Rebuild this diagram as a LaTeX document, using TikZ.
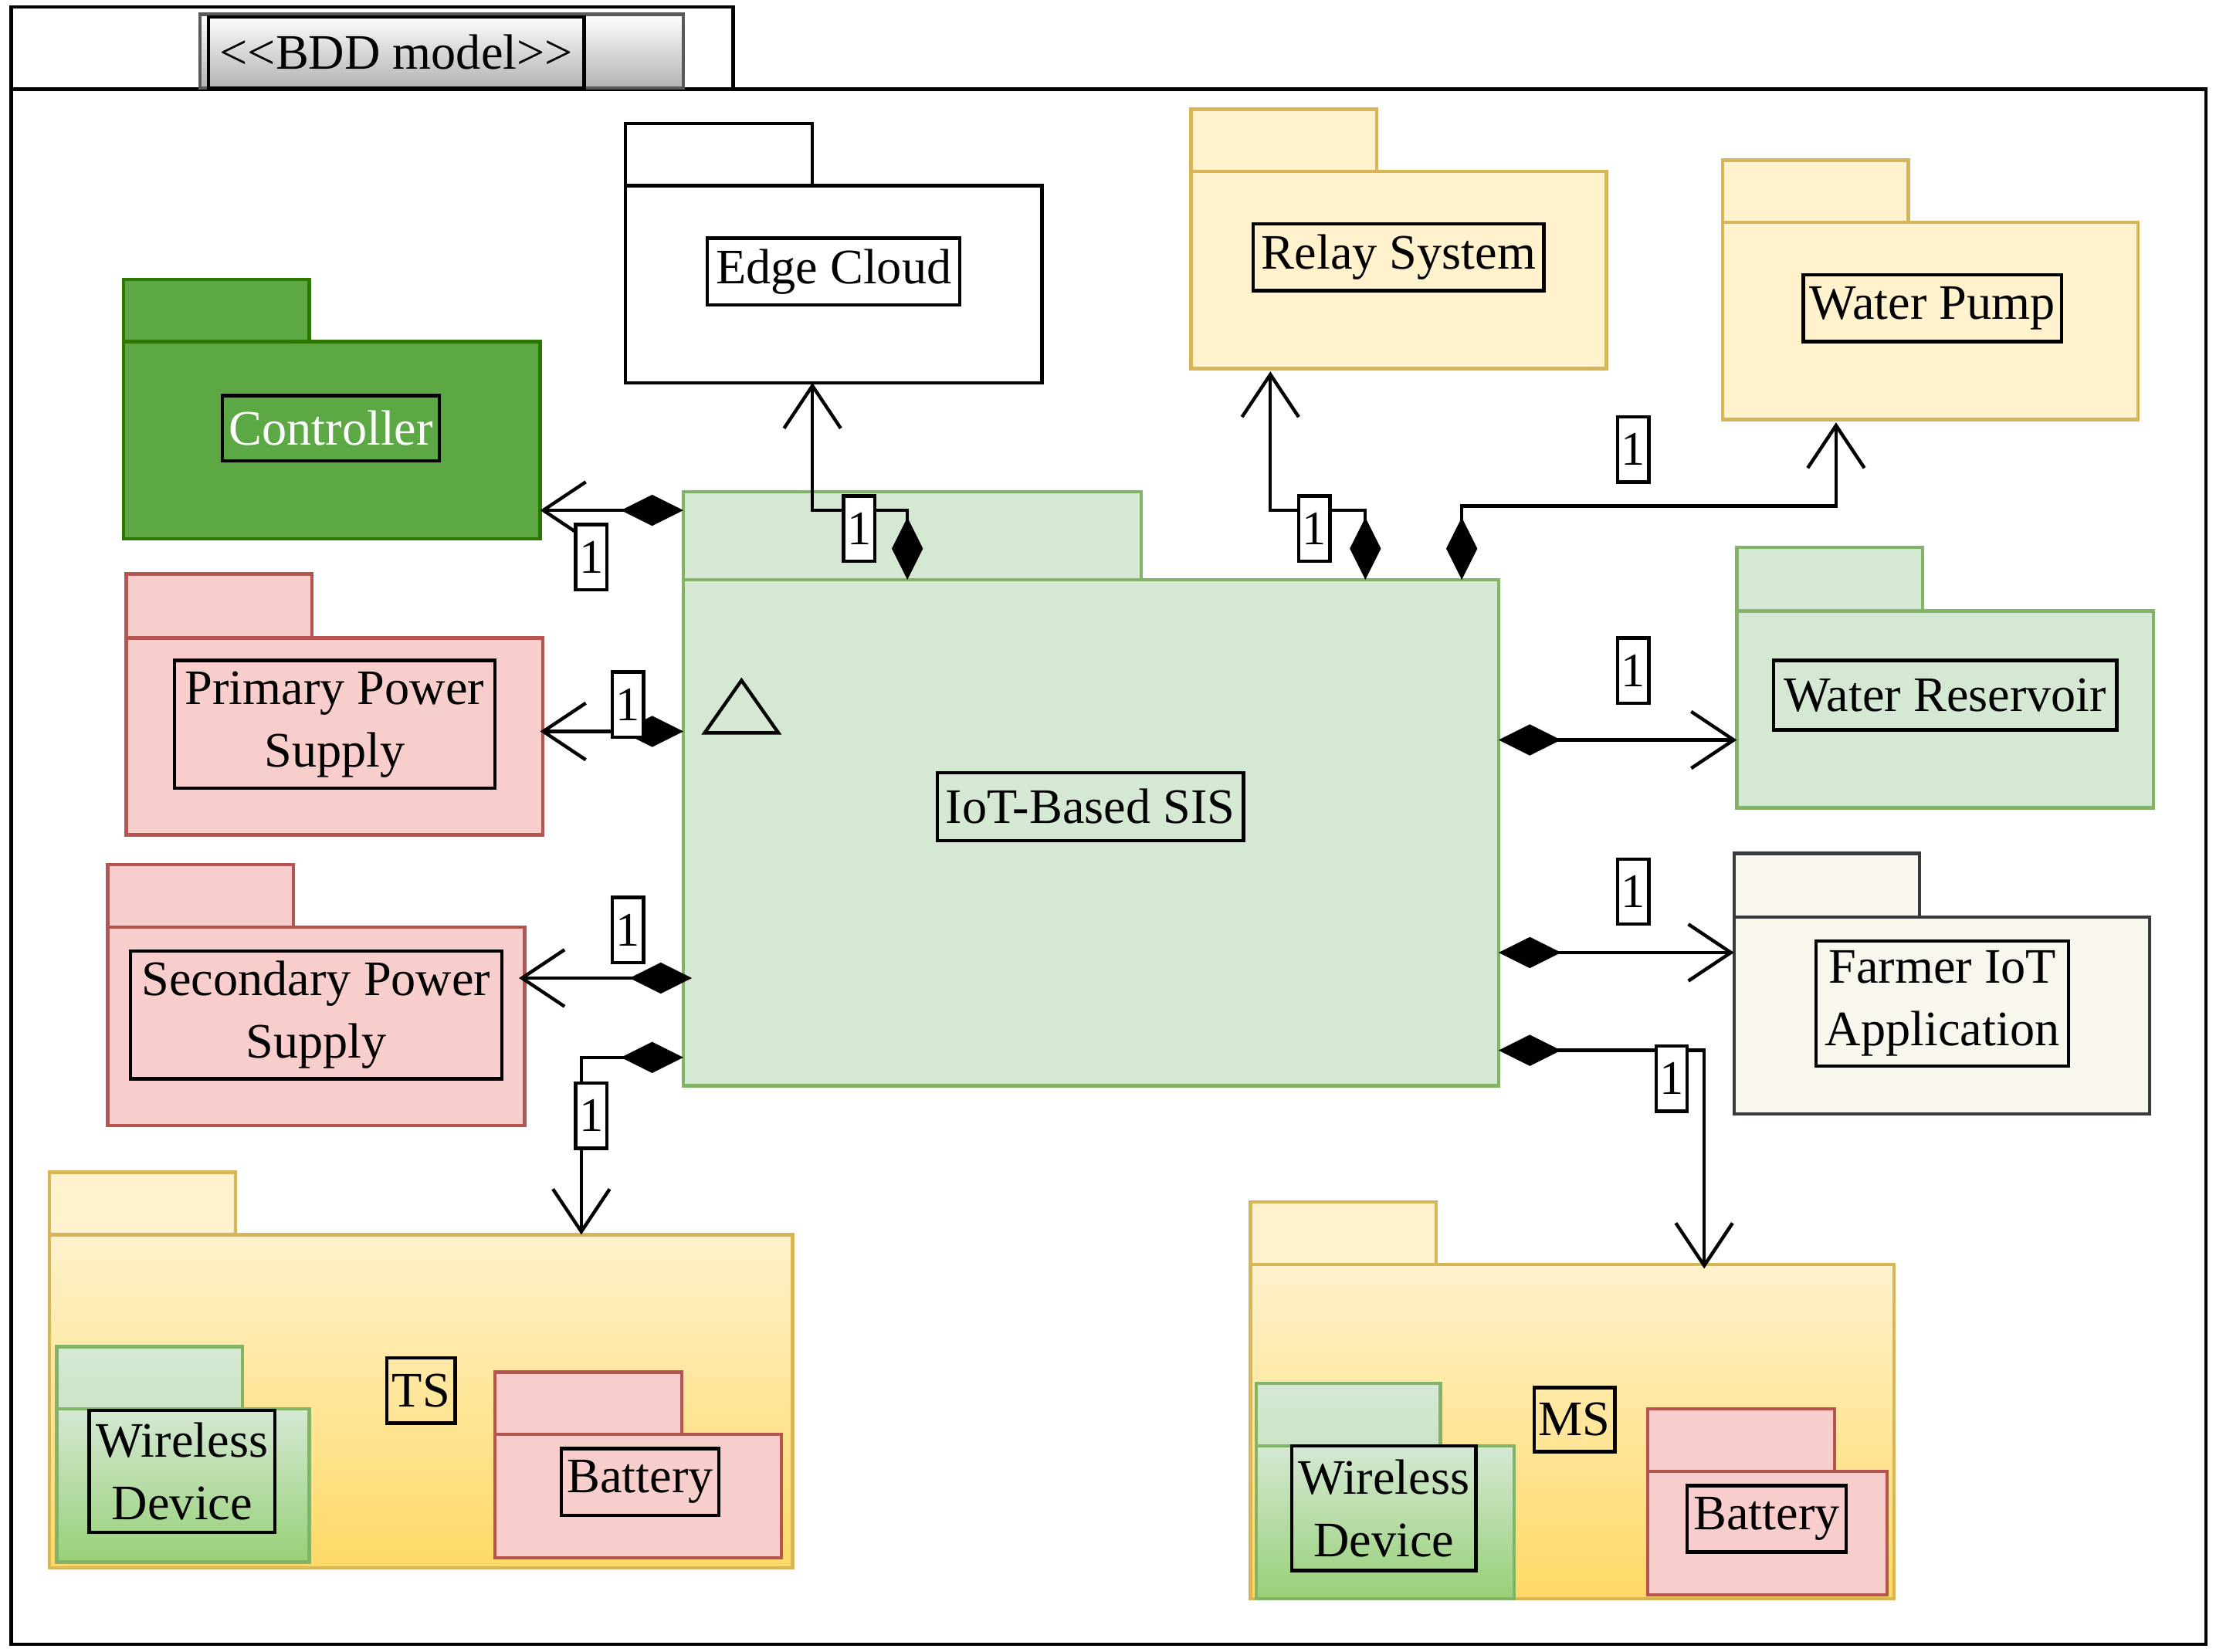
\documentclass[tikz,border=0pt]{standalone}
\usepackage{fontspec}
\setmainfont{Liberation Serif}
\usetikzlibrary{arrows.meta}
\definecolor{gfill}{HTML}{D5E8D4}\definecolor{gline}{HTML}{82B366}
\definecolor{yfill}{HTML}{FFF2CC}\definecolor{yline}{HTML}{D6B656}
\definecolor{rfill}{HTML}{F8CECC}\definecolor{rline}{HTML}{B85450}
\definecolor{dgreen}{HTML}{5BA844}\definecolor{dgline}{HTML}{2D7600}
\definecolor{wfill}{HTML}{F9F7ED}\definecolor{wline}{HTML}{36393D}
\definecolor{ydark}{HTML}{FFD966}\definecolor{gdark}{HTML}{97D077}
\newcommand\pkg[7]{\draw[#1] (#2,#3) rectangle (#4,#5); \draw[#1] (#2,#5) rectangle (#6,#7);}
\newcommand\lb[6]{\node[lbl,minimum width=#4-#2,minimum height=#5-#3,#6] at ({(#2+#4)/2},{(#3+#5)/2}) {#1};}
\tikzset{
 lbl/.style={draw=black,line width=2.4pt,inner sep=0pt,align=center,font=\fontsize{35}{44}\selectfont},
 one/.style={draw=black,fill=white,line width=2.4pt,inner sep=1pt,minimum width=22,minimum height=46,font=\fontsize{34}{40}\selectfont},
 comp/.style={line width=2.4pt,{Diamond[length=44pt,width=22pt]}-{Straight Barb[length=30pt,width=40pt,line width=2.4pt]}},
 wpk/.style={draw=black,fill=white,line width=2.4pt},
 gpk/.style={draw=gline,fill=gfill,line width=2.4pt},
 ypk/.style={draw=yline,fill=yfill,line width=2.4pt},
 rpk/.style={draw=rline,fill=rfill,line width=2.4pt},
 dpk/.style={draw=dgline,fill=dgreen,line width=2.4pt},
 fpk/.style={draw=wline,fill=wfill,line width=2.4pt},
 ygr/.style={draw=yline,top color=yfill,bottom color=ydark,line width=2.4pt},
 ggr/.style={draw=gline,top color=gfill,bottom color=gdark,line width=2.4pt},
 gtab/.style={draw=gline,top color=gfill,bottom color=gfill!85!gdark,line width=2.4pt},
}
\begin{document}
\begin{tikzpicture}[x=1pt,y=-1pt]
\useasboundingbox (0,0) rectangle (1563,1165);
% frame
\draw[line width=2.4pt] (8,5) rectangle (517,63);
\draw[line width=2.4pt] (8,63) rectangle (1556,1160);
\draw[draw=gray!70!black,line width=2.4pt,top color=white,bottom color=gray!60] (141,10) rectangle (482,62);
\lb{<\kern0pt<BDD model>\kern0pt>}{147}{12}{412}{62}{}
% packages
\pkg{wpk}{441}{87}{573}{131}{735}{270}
\lb{Edge Cloud}{499}{168}{677}{215}{}
\pkg{dpk}{87}{197}{218}{241}{381}{380}
\lb{Controller}{157}{279}{310}{325}{text=white}
\pkg{ypk}{840}{77}{971}{121}{1133}{260}
\lb{Relay System}{884}{158}{1089}{205}{}
\pkg{ypk}{1215}{113}{1346}{157}{1508}{296}
\lb{Water Pump}{1272}{194}{1454}{241}{}
\pkg{rpk}{89}{405}{220}{450}{383}{589}
\lb{Primary Power\\Supply}{123}{466}{349}{556}{}
\pkg{rpk}{76}{610}{207}{654}{370}{794}
\lb{Secondary Power\\Supply}{92}{671}{354}{761}{}
\pkg{gpk}{482}{347}{805}{409}{1057}{766}
\lb{IoT-Based SIS}{661}{545}{877}{593}{}
\draw[line width=2.4pt] (497,517) -- (549,517) -- (523,480) -- cycle;
\pkg{gpk}{1225}{386}{1356}{431}{1519}{570}
\lb{Water Reservoir}{1251}{466}{1493}{515}{}
\pkg{fpk}{1223}{602}{1354}{647}{1516}{786}
\lb{Farmer IoT\\Application}{1281}{664}{1459}{752}{}
% TS
\draw[ypk] (35,827) rectangle (166,871);
\draw[ygr] (35,871) rectangle (559,1106);
\lb{TS}{273}{958}{321}{1004}{}
\draw[gtab] (40,950) rectangle (171,994); \draw[ggr] (40,994) rectangle (218,1102);
\lb{Wireless\\Device}{63}{995}{194}{1081}{}
\pkg{rpk}{349}{968}{481}{1012}{551}{1099}
\lb{Battery}{396}{1022}{507}{1069}{}
% MS
\draw[ypk] (882,848) rectangle (1013,892);
\draw[ygr] (882,892) rectangle (1336,1128);
\lb{MS}{1082}{979}{1139}{1024}{}
\draw[gtab] (886,976) rectangle (1016,1020); \draw[ggr] (886,1020) rectangle (1068,1128);
\lb{Wireless\\Device}{911}{1020}{1041}{1108}{}
\pkg{rpk}{1162}{994}{1294}{1038}{1331}{1125}
\lb{Battery}{1190}{1048}{1302}{1095}{}
% connector endpoints
\coordinate (sCtl) at (482,360); \coordinate (ctl) at (381,360);
\coordinate (sEdge) at (640,409); \coordinate (edge) at (573,270);
\coordinate (sRel) at (963,409); \coordinate (rel) at (896,262);
\coordinate (sPump) at (1031,409); \coordinate (pump) at (1295,298);
\coordinate (sPri) at (482,516); \coordinate (pri) at (381,516);
\coordinate (sSec) at (488,690); \coordinate (sec) at (366,690);
\coordinate (sTS) at (482,746); \coordinate (ts) at (410,871);
\coordinate (sRes) at (1057,522); \coordinate (res) at (1225,522);
\coordinate (sFar) at (1057,672); \coordinate (far) at (1223,672);
\coordinate (sMS) at (1057,741); \coordinate (ms) at (1202,895);
\draw[comp] (sCtl) -- (ctl);
\draw[comp] (sEdge) -- (640,360) -| (edge);
\draw[comp] (sRel) -- (963,360) -| (rel);
\draw[comp] (sPump) -- (1031,357) -| (pump);
\draw[comp] (sPri) -- (pri);
\draw[comp] (sSec) -- (sec);
\draw[comp] (sTS) -- (410,746) -- (ts);
\draw[comp] (sRes) -- (res);
\draw[comp] (sFar) -- (far);
\draw[comp] (sMS) -- (1202,741) -- (ms);
% multiplicities
\node[one] at (417,393) {1};
\node[one] at (606,373) {1};
\node[one] at (927,373) {1};
\node[one] at (1152,317) {1};
\node[one] at (443,497) {1};
\node[one] at (443,656) {1};
\node[one] at (417,787) {1};
\node[one] at (1152,473) {1};
\node[one] at (1152,629) {1};
\node[one] at (1179,761) {1};
\end{tikzpicture}
\end{document}
